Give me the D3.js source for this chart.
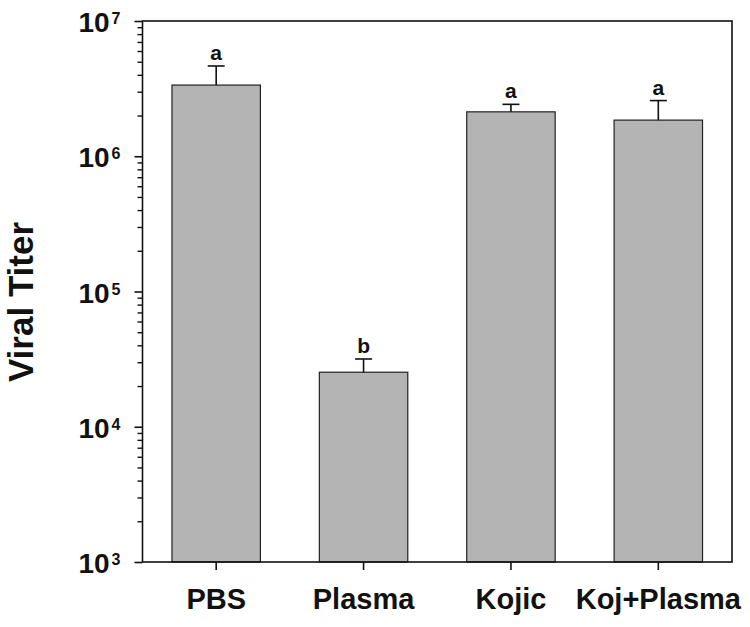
<!DOCTYPE html>
<html><head><meta charset="utf-8">
<script src="https://cdn.jsdelivr.net/npm/d3@7"></script>
<style>body{margin:0;background:#fff;} text{font-family:"Liberation Sans",Arial,sans-serif;font-weight:bold;}</style>
</head><body><svg id="c" width="750" height="627"></svg>
<script>
const categories = ["PBS","Plasma","Kojic","Koj+Plasma"];
const means = [3.36e6, 2.53e4, 2.13e6, 1.85e6];
const errors = [1.29e6, 0.64e4, 0.29e6, 0.73e6];
const letters = ["a","b","a","a"];
const yMajorExponents = [3,4,5,6,7];

const svg = d3.select("#c");
const L = 142.5, R = 732, T = 21, B = 562;
const x = d3.scaleBand().domain(categories).range([L,R]).paddingInner(0.4).paddingOuter(0.2);
const y = d3.scaleLog().domain([1e3,1e7]).range([B,T]);

const data = categories.map((c,i)=>({c, m:means[i], e:errors[i], l:letters[i]}));

// bars
svg.selectAll("rect.bar").data(data).join("rect")
  .attr("x", d=>x(d.c)).attr("width", x.bandwidth())
  .attr("y", d=>y(d.m)).attr("height", d=>B - y(d.m))
  .attr("fill","#b4b4b4").attr("stroke","#222").attr("stroke-width",1.2);

// error bars
const cap = 8.5;
svg.selectAll("line.eb").data(data).join("line")
  .attr("x1", d=>x(d.c)+x.bandwidth()/2).attr("x2", d=>x(d.c)+x.bandwidth()/2)
  .attr("y1", d=>y(d.m)).attr("y2", d=>y(d.m+d.e))
  .attr("stroke","#111").attr("stroke-width",1.6);
svg.selectAll("line.cap").data(data).join("line")
  .attr("x1", d=>x(d.c)+x.bandwidth()/2-cap).attr("x2", d=>x(d.c)+x.bandwidth()/2+cap)
  .attr("y1", d=>y(d.m+d.e)).attr("y2", d=>y(d.m+d.e))
  .attr("stroke","#111").attr("stroke-width",1.6);
svg.selectAll("text.lbl").data(data).join("text")
  .attr("x", d=>x(d.c)+x.bandwidth()/2).attr("y", d=>y(d.m+d.e)-6)
  .attr("text-anchor","middle").attr("font-size",21).attr("fill","#111")
  .text(d=>d.l);

// frame
svg.append("rect").attr("x",L).attr("y",T).attr("width",R-L).attr("height",B-T)
  .attr("fill","none").attr("stroke","#111").attr("stroke-width",1.6);

// y minor ticks
const minor = [];
for (let e=3;e<7;e++) for (let k=2;k<=9;k++) minor.push(k*Math.pow(10,e));
const gMinor = svg.append("g").attr("transform",`translate(${L},0)`)
  .call(d3.axisLeft(y).tickValues(minor).tickSize(5).tickFormat(""));
gMinor.select(".domain").remove();
gMinor.selectAll("line").attr("stroke","#111").attr("stroke-width",1.4);

// y major ticks
const gY = svg.append("g").attr("transform",`translate(${L},0)`)
  .call(d3.axisLeft(y).tickValues(yMajorExponents.map(e=>Math.pow(10,e))).tickSize(8).tickPadding(17).tickFormat(""));
gY.select(".domain").remove();
gY.selectAll("line").attr("stroke","#111").attr("stroke-width",1.6);
gY.selectAll(".tick").each(function(d){
  const t = d3.select(this).append("text").attr("fill","#111").attr("text-anchor","end")
    .attr("x",-22).attr("y",10.5).attr("font-size",28);
  t.append("tspan").text("10");
  t.append("tspan").attr("dx",2).attr("dy",-8).attr("font-size",16).text(Math.round(Math.log10(d)));
});

// x ticks
const gX = svg.append("g").attr("transform",`translate(0,${B})`)
  .call(d3.axisBottom(x).tickSize(8).tickPadding(18));
gX.select(".domain").remove();
gX.selectAll("line").attr("stroke","#111").attr("stroke-width",1.6);
gX.selectAll("text").attr("font-size",29).attr("fill","#111")
  .attr("font-family","Liberation Sans, Arial, sans-serif").attr("font-weight","bold").attr("dy","0.71em");

// y title
svg.append("text").attr("transform","translate(33,302) rotate(-90)")
  .attr("text-anchor","middle").attr("font-size",35).attr("fill","#111").text("Viral Titer");
</script></body></html>
